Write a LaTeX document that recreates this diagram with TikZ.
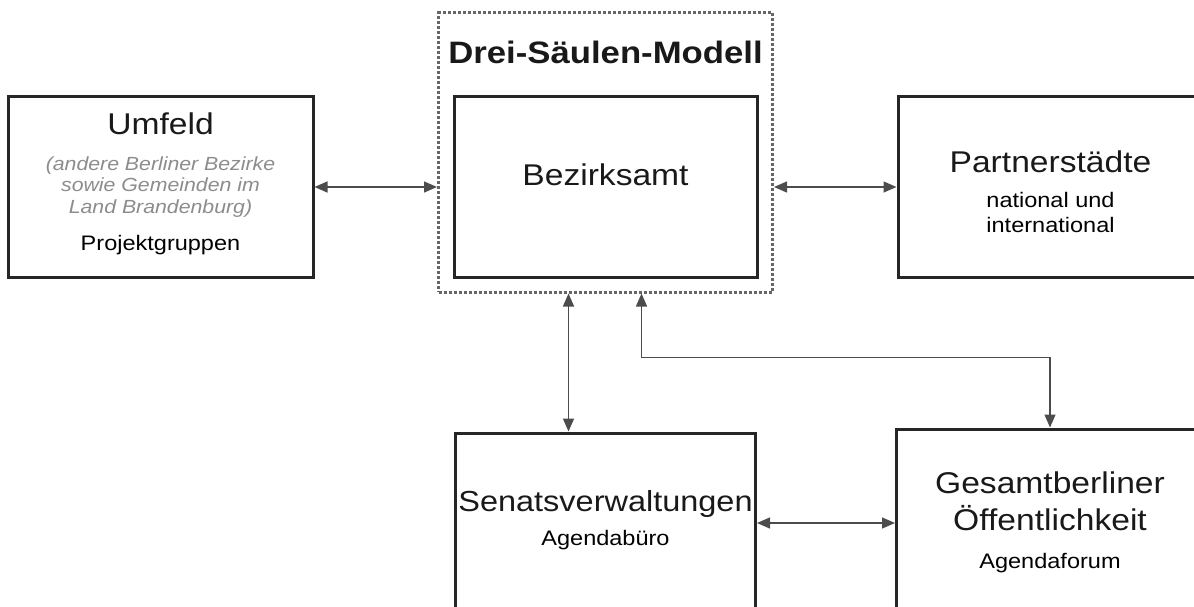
\documentclass[tikz,border=0pt]{standalone}
\usepackage{fontspec}
\setmainfont{Liberation Sans}[FakeStretch=1.12]
\usepackage{tikz}
\usetikzlibrary{shapes,arrows.meta,positioning}
\tikzstyle{kasten} = [rectangle, draw=black!85, line width=3pt,
    minimum width=305pt, minimum height=180pt, inner sep=0pt]
\tikzstyle{rahmen} = [rectangle, draw=black!60, dotted, line width=3pt,
    minimum width=334pt, minimum height=279pt, inner sep=0pt]
\tikzstyle{titel} = [font=\fontsize{30}{32}\selectfont, text=black!90,
    inner sep=0pt, anchor=base]
\tikzstyle{zusatz} = [font=\fontsize{21}{25}\selectfont, inner sep=0pt,
    align=center, anchor=base]
\tikzstyle{kursiv} = [font=\fontsize{19}{21.5}\selectfont\itshape,
    text=black!45, inner sep=0pt, align=center]
\tikzstyle{pfeil} = [draw=black!70, line width=1.4pt,
    {Triangle[length=13pt,width=11pt]}-{Triangle[length=13pt,width=11pt]}]

\begin{document}
\begin{tikzpicture}[x=1pt, y=-1pt, node distance = 138pt]
    \useasboundingbox (0,0) rectangle (1194,607);
    \clip (0,0) rectangle (1194,607);
    % Place nodes
    \node [kasten, minimum width=303pt] (bezirk) at (605.5,187) {};
    \node [rahmen] (modell) at ([yshift=34.5pt]bezirk) {};
    \node [kasten, left=of bezirk] (umfeld) {};
    \node [kasten, right=of bezirk] (partner) {};
    \node [kasten, minimum width=300pt, below=153pt of bezirk] (senat) {};
    \node [kasten, minimum width=307pt, minimum height=184pt, yshift=2pt,
        right=of senat] (gesamt) {};
    % Texts
    \node [titel, font=\fontsize{31}{33}\selectfont\bfseries] (modellT)
        at ([yshift=-52pt]modell.north) {Drei-Säulen-Modell};
    \node [titel] (bezirkT) at ([yshift=2pt]bezirk.center) {Bezirksamt};
    \node [titel] (umfeldT) at ([yshift=52pt]umfeld.center) {Umfeld};
    \node [kursiv] (umfeldK) at ([yshift=0pt]umfeld.center)
        {(andere Berliner Bezirke\\sowie Gemeinden im\\Land Brandenburg)};
    \node [zusatz] (umfeldZ) at ([yshift=-63.5pt]umfeld.center) {Projektgruppen};
    \node [titel] (partnerT) at ([yshift=15pt]partner.center) {Partnerstädte};
    \node [zusatz, anchor=center] (partnerZ) at ([yshift=-25pt]partner.center)
        {national und\\international};
    \node [titel, font=\fontsize{29}{31}\selectfont] (senatT)
        at ([yshift=12pt]senat.center) {Senatsverwaltungen};
    \node [zusatz] (senatZ) at ([yshift=-22pt]senat.center) {Agendabüro};
    \node [titel] (gesamtT) at ([yshift=28pt]gesamt.center) {Gesamtberliner};
    \node [titel] (gesamtU) at ([yshift=-9pt]gesamt.center) {Öffentlichkeit};
    \node [zusatz] (gesamtZ) at ([yshift=-47pt]gesamt.center) {Agendaforum};
    % Draw edges
    \path [pfeil] (umfeld.east) -- (umfeld.east -| modell.west);
    \path [pfeil] (partner.west) -- (partner.west -| modell.east);
    \path [pfeil] ([xshift=-37pt]modell.south) -- ([xshift=-37pt]modell.south |- senat.north);
    \path [pfeil] ([xshift=36pt]modell.south) -- ++(0,64) -| (gesamt.north);
    \path [pfeil] (senat.east) -- (senat.east -| gesamt.west);
\end{tikzpicture}
\end{document}
